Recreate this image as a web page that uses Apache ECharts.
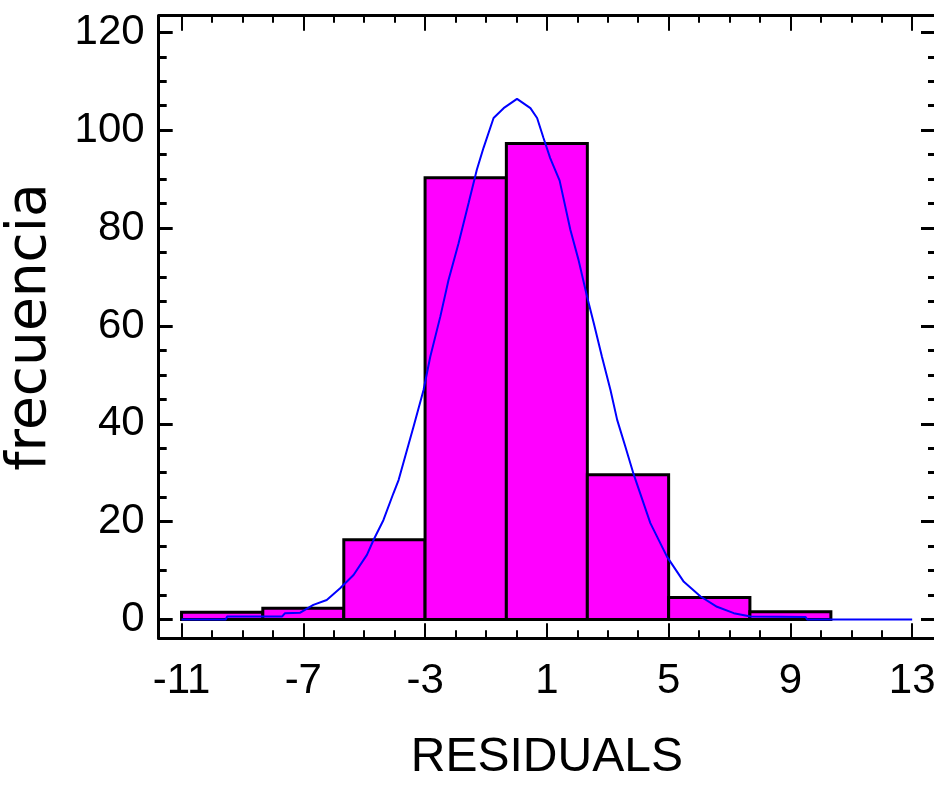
<!DOCTYPE html>
<html>
<head>
<meta charset="utf-8">
<script src="https://cdn.jsdelivr.net/npm/echarts@6/dist/echarts.min.js"></script>
<style>
  html, body { margin: 0; padding: 0; background: #fff; }
  #chart { width: 934px; height: 793px; }
</style>
</head>
<body>
<div id="chart"></div>
<script>
// histogram bins (edges) and frequencies
const binEdges = [-11, -8.33, -5.67, -3, -0.33, 2.33, 5, 7.67, 10.33];
const binCounts = [1.5, 2.3, 16.3, 90.3, 97.3, 29.6, 4.5, 1.6];

// fitted curve
const curveX = [-11, -9.55, -9.5, -7.7, -7.6, -7.1, -6.67, -6.23, -5.79, -5.35, -4.91, -4.69, -4.37, -4.04, -3.87,
  -3.38, -3.05, -2.83, -2.5, -2.23, -1.9, -1.57, -1.3, -1.08, -0.75, -0.42, 0.02, 0.46, 0.68, 0.89, 1.11,
  1.42, 1.77, 2.04, 2.32, 2.54, 2.81, 3.09, 3.31, 3.58, 3.85, 4.4, 4.95, 5.5, 6.05, 6.59, 7.14, 7.69, 9.5, 9.55, 13];
const curveY = [0, 0, 0.6, 0.6, 1.3, 1.4, 3.0, 4.0, 6.4, 9.1, 13.2, 16.3, 20.3, 25.8, 28.5,
  39.4, 46.9, 53.7, 61.9, 69.4, 76.9, 85.1, 91.9, 96.4, 102.5, 104.5, 106.4, 104.5, 102.5, 98.4, 94.3,
  89.7, 79.7, 73.5, 66.0, 60.6, 53.7, 46.9, 40.8, 35.3, 29.7, 19.7, 12.8, 7.7, 4.7, 2.6, 1.3, 0.6, 0.5, 0, 0];

// ticks
const xMajorTicks = [-11, -7, -3, 1, 5, 9, 13];
const xMinorTicks = [-10, -9, -8, -6, -5, -4, -2, -1, 0, 2, 3, 4, 6, 7, 8, 10, 11, 12];
const yMajorTicks = [0, 20, 40, 60, 80, 100, 120];
const yMinorTicks = [5, 10, 15, 25, 30, 35, 45, 50, 55, 65, 70, 75, 85, 90, 95, 105, 110, 115];

const X_MIN = -11.75, X_MAX = 13.75;
const Y_MIN = -3.84, Y_MAX = 123.4;
const narrowFont = "'Liberation Sans Narrow', 'Liberation Sans', Arial, sans-serif";

const chart = echarts.init(document.getElementById('chart'));

// axes used only for drawing ticks on every side of the frame
const tickAxis = (dim, position, ticks, len, width, extra) => Object.assign({
  type: 'value',
  position: position,
  min: dim === 'x' ? X_MIN : Y_MIN,
  max: dim === 'x' ? X_MAX : Y_MAX,
  axisLine: { show: false, onZero: false },
  splitLine: { show: false },
  axisLabel: { show: false },
  axisTick: {
    show: true,
    inside: true,
    length: len,
    customValues: ticks,
    lineStyle: { color: '#000', width: width }
  }
}, extra || {});

const frameLine = { show: true, onZero: false, lineStyle: { color: '#000', width: 3 } };

const option = {
  animation: false,
  grid: {
    left: 158.7, top: 15.7, width: 776.3, height: 622.6,
    containLabel: false,
    outerBoundsMode: 'none'
  },
  xAxis: [
    tickAxis('x', 'bottom', xMajorTicks, 15, 2, {
      axisLine: frameLine,
      axisLabel: {
        show: true,
        customValues: xMajorTicks,
        margin: 22,
        color: '#000',
        fontSize: 42,
        fontFamily: narrowFont
      },
      name: 'RESIDUALS',
      nameLocation: 'middle',
      nameGap: 95,
      nameTextStyle: { color: '#000', fontSize: 48, fontFamily: narrowFont }
    }),
    tickAxis('x', 'bottom', xMinorTicks, 8, 2),
    tickAxis('x', 'top', xMajorTicks, 15, 2, { axisLine: frameLine }),
    tickAxis('x', 'top', xMinorTicks, 7, 2)
  ],
  yAxis: [
    tickAxis('y', 'left', yMajorTicks, 14, 3, {
      axisLine: frameLine,
      axisLabel: {
        show: true,
        customValues: yMajorTicks,
        margin: 14,
        color: '#000',
        fontSize: 42,
        fontFamily: narrowFont
      },
      name: 'frecuencia',
      nameLocation: 'middle',
      nameGap: 100,
      nameTextStyle: { color: '#000', fontSize: 55, fontFamily: "'DejaVu Sans', sans-serif" }
    }),
    tickAxis('y', 'left', yMinorTicks, 8, 3),
    tickAxis('y', 'right', yMajorTicks, 14, 3, { axisLine: frameLine }),
    tickAxis('y', 'right', yMinorTicks, 7, 3)
  ],
  series: [
    {
      type: 'custom',
      xAxisIndex: 0,
      yAxisIndex: 0,
      encode: { x: [0, 1], y: 2 },
      data: binCounts.map((c, i) => [binEdges[i], binEdges[i + 1], c]),
      renderItem: (params, api) => {
        const topLeft = api.coord([api.value(0), api.value(2)]);
        const bottomRight = api.coord([api.value(1), 0]);
        return {
          type: 'rect',
          shape: {
            x: topLeft[0],
            y: topLeft[1],
            width: bottomRight[0] - topLeft[0],
            height: bottomRight[1] - topLeft[1]
          },
          style: { fill: '#ff00ff', stroke: '#000', lineWidth: 3 }
        };
      },
      z: 2
    },
    {
      type: 'line',
      xAxisIndex: 0,
      yAxisIndex: 0,
      data: curveX.map((x, i) => [x, curveY[i]]),
      showSymbol: false,
      symbol: 'none',
      lineStyle: { color: '#0000ff', width: 2 },
      z: 3
    }
  ]
};

chart.setOption(option);
</script>
</body>
</html>
